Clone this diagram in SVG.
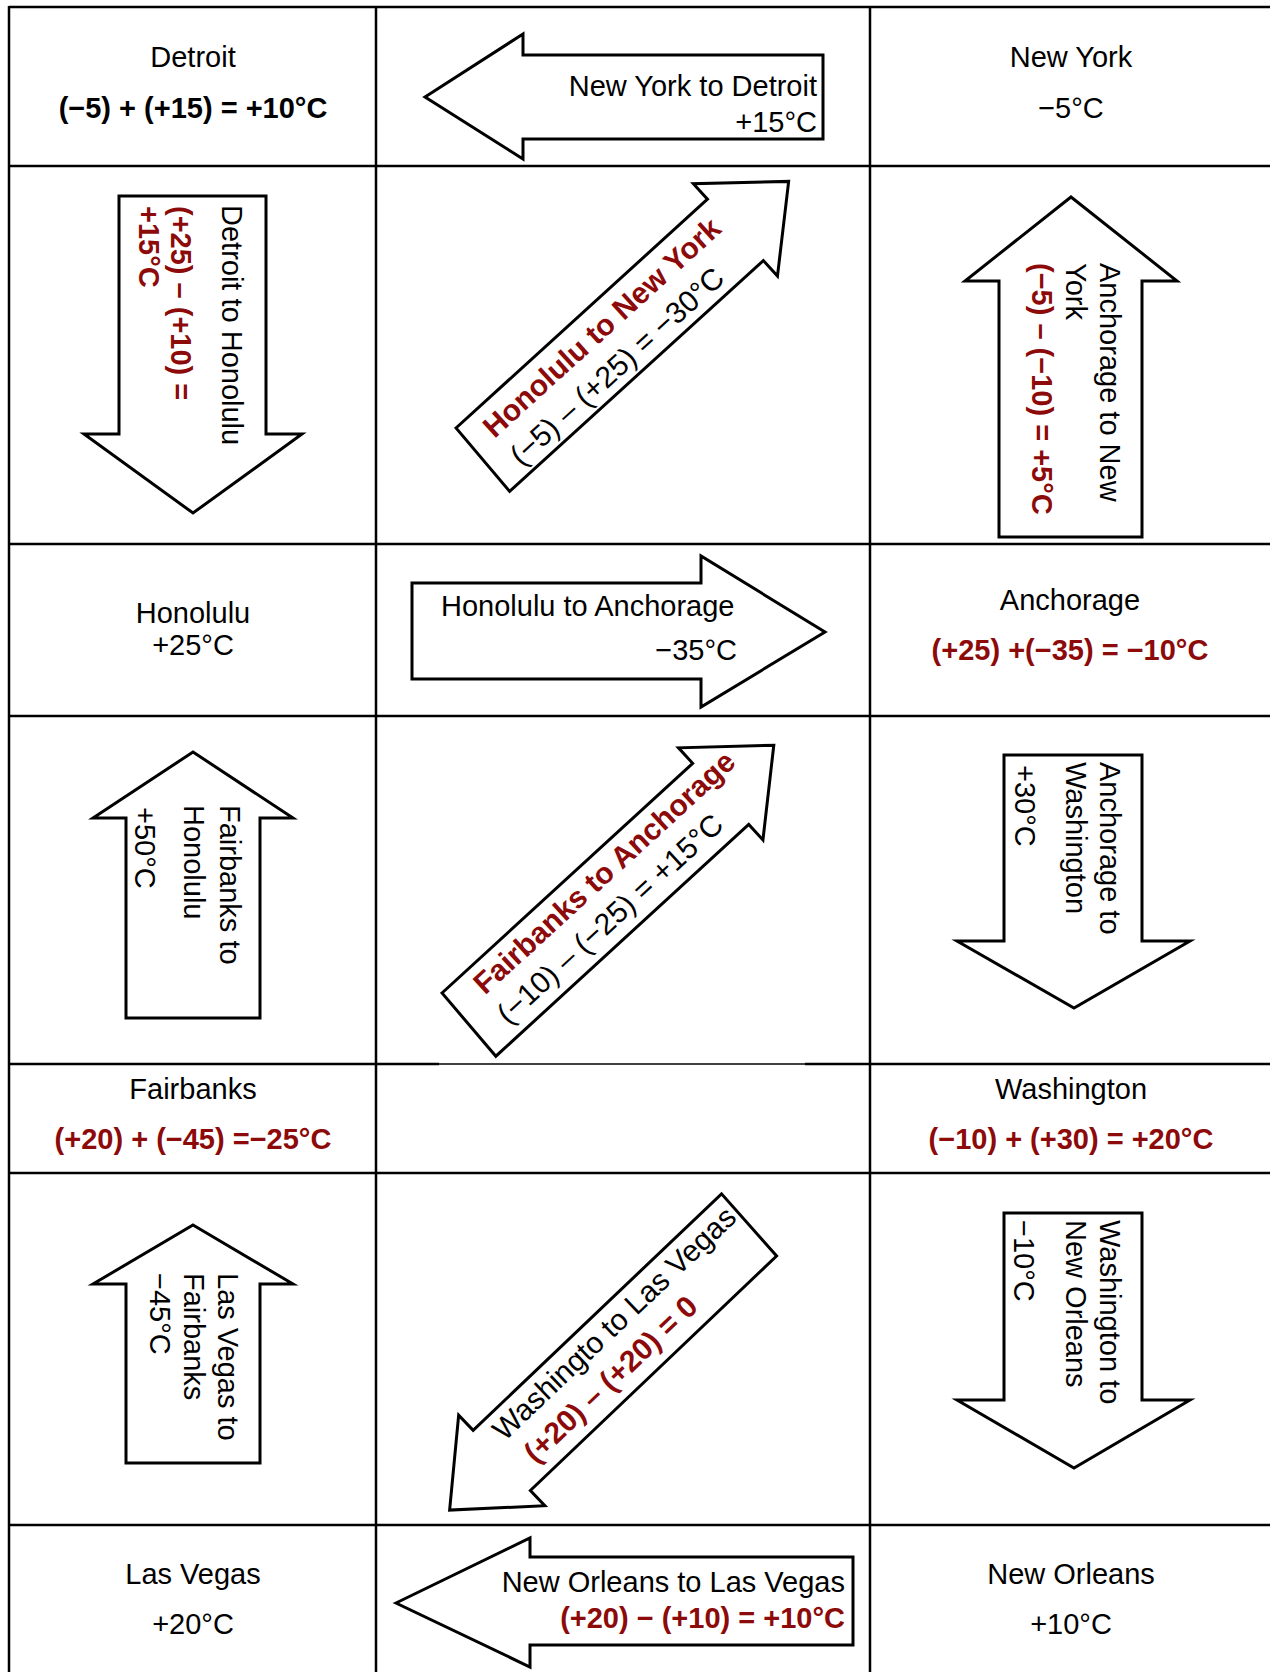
<svg xmlns="http://www.w3.org/2000/svg" width="1270" height="1672" viewBox="0 0 1270 1672">
<style>
text{font-family:"Liberation Sans",Arial,sans-serif;font-size:29px;fill:#000}
.b{font-weight:bold}
.r{fill:#8c0a0a;font-weight:bold}
.c{text-anchor:middle}
.e{text-anchor:end}
.d{font-size:30px}
.grid line{stroke:#000;stroke-width:2.5}
.arrow{fill:#fff;stroke:#000;stroke-width:3;stroke-linejoin:miter}
</style>
<defs>
<polygon id="diag" points="0,0 340,0 340,-21 412,41.5 340,104 340,83 -3,83"/>
</defs>
<rect width="1270" height="1672" fill="#fff"/>
<g class="grid" id="grid">
<line x1="9" y1="7" x2="1270" y2="7"/>
<line x1="9" y1="166" x2="1270" y2="166"/>
<line x1="9" y1="544" x2="1270" y2="544"/>
<line x1="9" y1="716" x2="1270" y2="716"/>
<line x1="9" y1="1064" x2="439" y2="1064"/>
<line x1="439" y1="1064" x2="805" y2="1064" style="stroke-width:1.3"/>
<line x1="805" y1="1064" x2="1270" y2="1064"/>
<line x1="9" y1="1173" x2="1270" y2="1173"/>
<line x1="9" y1="1525" x2="1270" y2="1525"/>
<line x1="9" y1="6" x2="9" y2="1672"/>
<line x1="376" y1="6" x2="376" y2="1672"/>
<line x1="870" y1="6" x2="870" y2="1672"/>
</g>
<g id="detroit">
<text class="c" x="193" y="67">Detroit</text>
<text class="c b" x="193" y="118">(−5) + (+15) = +10°C</text>
</g>
<g id="new-york">
<text class="c" x="1071" y="67">New York</text>
<text class="c" x="1071" y="118">−5°C</text>
</g>
<g id="honolulu">
<text class="c" x="193" y="623">Honolulu</text>
<text class="c" x="193" y="655">+25°C</text>
</g>
<g id="anchorage">
<text class="c" x="1070" y="610">Anchorage</text>
<text class="c r" x="1070" y="660">(+25) +(−35) = −10°C</text>
</g>
<g id="fairbanks">
<text class="c" x="193" y="1099">Fairbanks</text>
<text class="c r" x="193" y="1149">(+20) + (−45) =−25°C</text>
</g>
<g id="washington">
<text class="c" x="1071" y="1099">Washington</text>
<text class="c r" x="1071" y="1149">(−10) + (+30) = +20°C</text>
</g>
<g id="las-vegas">
<text class="c" x="193" y="1584">Las Vegas</text>
<text class="c" x="193" y="1634">+20°C</text>
</g>
<g id="new-orleans">
<text class="c" x="1071" y="1584">New Orleans</text>
<text class="c" x="1071" y="1634">+10°C</text>
</g>
<g id="connectors">
<g id="ny-detroit">
<polygon class="arrow" points="425,97 523,34 523,55 823,55 823,139 523,139 523,159"/>
<text class="e" x="817" y="96">New York to Detroit</text>
<text class="e" x="817" y="132">+15°C</text>
</g>
<g id="detroit-honolulu">
<polygon class="arrow" points="119,196 266,196 266,434 302,434 193,513 84,434 119,434"/>
<text transform="translate(222,205) rotate(90)">Detroit to Honolulu</text>
<text class="r" transform="translate(171,206) rotate(90)">(+25) – (+10) =</text>
<text class="r" transform="translate(139,206) rotate(90)">+15°C</text>
</g>
<g id="honolulu-newyork" transform="translate(456,428) rotate(-42.3)">
<use href="#diag" class="arrow"/>
<text class="r d" x="21" y="34">Honolulu to New York</text>
<text class="d" x="22" y="73">(−5) – (+25) = −30°C</text>
</g>
<g id="anchorage-newyork">
<polygon class="arrow" points="1071,197 1177,281 1142,281 1142,537 999,537 999,281 965,281"/>
<text transform="translate(1100,263) rotate(90)">Anchorage to New</text>
<text transform="translate(1066,263) rotate(90)">York</text>
<text class="r" transform="translate(1032,263) rotate(90)">(−5) – (−10) = +5°C</text>
</g>
<g id="honolulu-anchorage">
<polygon class="arrow" points="412,583 701,583 701,556 825,632 701,707 701,679 412,679"/>
<text x="441" y="616">Honolulu to Anchorage</text>
<text class="e" x="737" y="660">−35°C</text>
</g>
<g id="fairbanks-honolulu">
<polygon class="arrow" points="193,752 293,818 260,818 260,1018 126,1018 126,818 93,818"/>
<text transform="translate(220,805) rotate(90)">Fairbanks to</text>
<text transform="translate(184,805) rotate(90)">Honolulu</text>
<text transform="translate(135,807) rotate(90)">+50°C</text>
</g>
<g id="fairbanks-anchorage" transform="translate(442,993) rotate(-42.5)">
<use href="#diag" class="arrow"/>
<text class="r d" x="30" y="31">Fairbanks to Anchorage</text>
<text class="d" x="27" y="69">(−10) – (−25) = +15°C</text>
</g>
<g id="anchorage-washington">
<polygon class="arrow" points="1004,755 1142,755 1142,941 1190,941 1074,1008 957,941 1004,941"/>
<text transform="translate(1100,762) rotate(90)">Anchorage to</text>
<text transform="translate(1066,762) rotate(90)">Washington</text>
<text transform="translate(1015,765) rotate(90)">+30°C</text>
</g>
<g id="lasvegas-fairbanks">
<polygon class="arrow" points="193,1225 293,1284 260,1284 260,1463 126,1463 126,1284 93,1284"/>
<text transform="translate(218,1273) rotate(90)">Las Vegas to</text>
<text transform="translate(184,1273) rotate(90)">Fairbanks</text>
<text transform="translate(150,1273) rotate(90)">−45°C</text>
</g>
<g id="washington-lasvegas">
<use href="#diag" class="arrow" transform="translate(776.6,1256) rotate(136.4)"/>
<g transform="translate(473,1430.5) rotate(-43.6)">
<text class="d" x="15" y="30">Washingto to Las Vegas</text>
<text class="r d" x="22" y="68">(+20) – (+20) = 0</text>
</g>
</g>
<g id="washington-neworleans">
<polygon class="arrow" points="1004,1213 1142,1213 1142,1400 1190,1400 1074,1468 957,1400 1004,1400"/>
<text transform="translate(1100,1220) rotate(90)">Washington to</text>
<text transform="translate(1066,1220) rotate(90)">New Orleans</text>
<text transform="translate(1014,1220) rotate(90)">−10°C</text>
</g>
<g id="neworleans-lasvegas">
<polygon class="arrow" points="396,1603 530,1538 530,1557 853,1557 853,1645 530,1645 530,1667"/>
<text class="e" x="845" y="1592">New Orleans to Las Vegas</text>
<text class="e r" x="845" y="1628">(+20) − (+10) = +10°C</text>
</g>
</g>
</svg>
